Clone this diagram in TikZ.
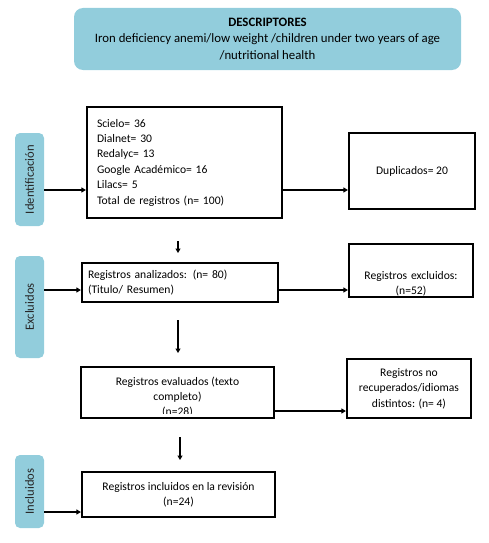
\documentclass[tikz,border=0pt]{standalone}
\usepackage{fontspec}
\setmainfont{Carlito}
\usetikzlibrary{arrows.meta}
\definecolor{lblue}{HTML}{92CDDC}
\definecolor{ltext}{HTML}{262626}
\begin{document}
\begin{tikzpicture}[x=1pt,y=-1pt,
  box/.style={draw, line width=2.2pt, inner sep=0pt, font=\fontsize{11.6}{15.4}\selectfont},
  side/.style={fill=lblue, rounded corners=5pt, rotate=90, minimum height=29pt, inner sep=0pt, text=ltext, font=\fontsize{12.6}{14}\selectfont},
  arr/.style={line width=2pt, -{Triangle[length=4.5pt,width=5pt]}}]
\useasboundingbox (0,0) rectangle (488,543);
% title
\node[fill=lblue, rounded corners=9pt, minimum width=387pt, minimum height=62pt, align=center, inner sep=0pt,
  font=\fontsize{12.8}{16.8}\selectfont] (title) at (267.5,39)
  {\textbf{DESCRIPTORES}\\Iron deficiency anemi/low weight /children under two years of age\\/nutritional health};
% side labels
\node[side, minimum width=93pt] (ident) at (29.5,179.5) {Identificación};
\node[side, minimum width=102pt] (excl) at (29.5,307) {Excluidos};
\node[side, minimum width=73pt] (incl) at (29.5,491.5) {Incluidos};
% boxes
\node[box, minimum width=195pt, minimum height=111pt, text width=175pt, align=left] (src) at (184.5,162.5)
  {Scielo= 36\\Dialnet= 30\\Redalyc= 13\\Google Académico= 16\\Lilacs= 5\\Total de registros (n= 100)};
\node[box, minimum width=126pt, minimum height=76pt, align=center] (dup) at (412,171) {Duplicados= 20};
\node[box, minimum width=196pt, minimum height=39pt, text width=184pt, align=left] (anal) at (180,282.5)
  {Registros analizados: (n= 80)\\(Titulo/ Resumen)};
\node[box, minimum width=124pt, minimum height=53pt, text width=124pt, align=center, anchor=north, text depth=0pt] (exc) at (411,243)
  {\rule{0pt}{17pt}Registros excluidos:\\(n=52)\rule[-14pt]{0pt}{14pt}};
\node[box, minimum width=193pt, minimum height=51pt] (eval) at (177.5,392.5) {};
\begin{scope}
  \clip (81,367) rectangle (274,413.8);
  \node[align=center, inner sep=0pt, font=\fontsize{11.6}{15}\selectfont] (evalt) at (177.5,397.5)
    {Registros evaluados (texto\\completo)\\(n=28)};
\end{scope}
\node[box, minimum width=124pt, minimum height=59pt, align=center] (norec) at (409,388.5)
  {Registros no\\recuperados/idiomas\\distintos: (n= 4)};
\node[box, minimum width=193pt, minimum height=45pt, align=center] (incb) at (178.5,494.5)
  {Registros incluidos en la revisión\\(n=24)};
% free coordinates
\coordinate (y1) at (0,190);
\coordinate (y2) at (0,290);
\coordinate (y3) at (0,411);
\coordinate (y4) at (0,512);
\coordinate (s1) at (178,241);
\coordinate (s2) at (178,253);
\coordinate (s3) at (178,320);
\coordinate (s4) at (178,353);
\coordinate (s5) at (180,437);
\coordinate (s6) at (180,460);
% connectors
\draw[arr] (ident.south |- y1) -- (src.west |- y1);
\draw[arr] (src.east |- y1) -- (dup.west |- y1);
\draw[arr] (excl.south |- y2) -- (anal.west |- y2);
\draw[arr] (anal.east |- y2) -- (exc.west |- y2);
\draw[arr] (eval.east |- y3) -- (norec.west |- y3);
\draw[arr] (incl.south |- y4) -- (incb.west |- y4);
\draw[arr] (s1) -- (s2);
\draw[arr] (s3) -- (s4);
\draw[arr] (s5) -- (s6);
\end{tikzpicture}
\end{document}
